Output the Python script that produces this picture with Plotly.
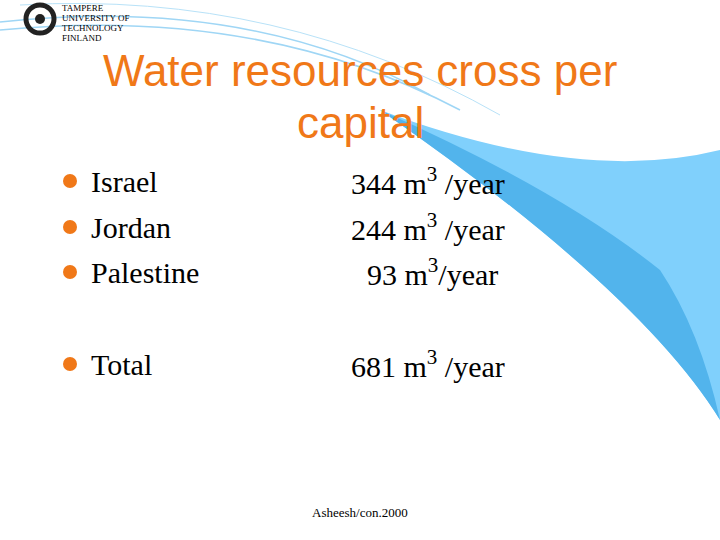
import plotly.graph_objects as go

countries = ["Israel", "Jordan", "Palestine", "Total"]
values = [344, 244, 93, 681]
units = ["m<sup>3</sup> /year", "m<sup>3</sup> /year", "m<sup>3</sup>/year", "m<sup>3</sup> /year"]
title_lines = ["Water resources cross per", "capital"]
source = "Asheesh/con.2000"
logo_lines = ["TAMPERE", "UNIVERSITY OF", "TECHNOLOGY", "FINLAND"]

row_y = [181, 227, 272, 364]
val_x = [349, 349, 365, 349]

fig = go.Figure()
fig.add_trace(go.Scatter(x=[70]*len(countries), y=row_y, mode="markers",
                         marker=dict(color="#F07818", size=14), hoverinfo="skip"))

shapes = [
    dict(type="path", path="M 380,110 Q 580,185 720,150 L 720,420 Q 640,290 380,110 Z",
         fillcolor="#80D0FC", line=dict(width=0), layer="below"),
    dict(type="path", path="M 380,110 Q 560,190 660,270 Q 700,330 720,420 Q 640,290 380,110 Z",
         fillcolor="#52B4EC", line=dict(width=0), layer="below"),
    dict(type="path", path="M 0,22 Q 250,-5 430,95", line=dict(color="#9FD6F5", width=1.5)),
    dict(type="path", path="M 0,30 Q 260,5 460,110", line=dict(color="#9FD6F5", width=1.5)),
    dict(type="path", path="M 20,5 Q 280,-10 500,115", line=dict(color="#B8E2F8", width=1)),
    dict(type="circle", x0=26, y0=5, x1=54, y1=33, line=dict(color="#222", width=5)),
    dict(type="circle", x0=35, y0=14, x1=45, y1=24, fillcolor="#222", line=dict(width=0)),
]

ann = []
for i, t in enumerate(title_lines):
    ann.append(dict(x=360, y=[70, 122][i], text=t, showarrow=False, xanchor="center",
                    font=dict(family="Liberation Sans, Arial", size=44, color="#F07818")))
for c, v, u, y, vx in zip(countries, values, units, row_y, val_x):
    ann.append(dict(x=89, y=y, text=c, showarrow=False, xanchor="left",
                    font=dict(family="Liberation Serif", size=30, color="black")))
    ann.append(dict(x=vx, y=y, text=f"{v} {u}", showarrow=False, xanchor="left",
                    font=dict(family="Liberation Serif", size=30, color="black")))
ann.append(dict(x=360, y=512, text=source, showarrow=False,
                font=dict(family="Liberation Serif", size=13, color="black")))
for i, t in enumerate(logo_lines):
    ann.append(dict(x=60, y=8 + i*10, text=t, showarrow=False, xanchor="left",
                    font=dict(family="Liberation Serif", size=9, color="black")))

fig.update_layout(width=720, height=540, margin=dict(l=0, r=0, t=0, b=0),
                  plot_bgcolor="white", paper_bgcolor="white", showlegend=False,
                  xaxis=dict(range=[0, 720], visible=False, fixedrange=True),
                  yaxis=dict(range=[540, 0], visible=False, fixedrange=True),
                  shapes=shapes, annotations=ann)
fig.write_html("out.html", config={"displayModeBar": False},
               post_script="document.body.style.margin='0';")
